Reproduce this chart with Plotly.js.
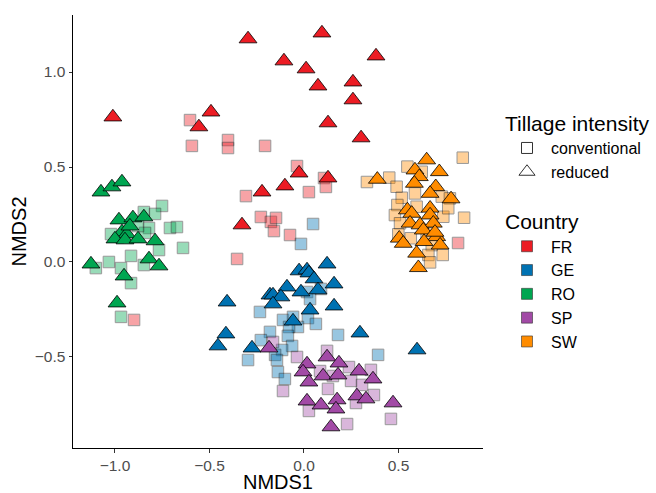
<!DOCTYPE html>
<html>
<head>
<meta charset="utf-8">
<script src="https://cdn.plot.ly/plotly-3.0.1.min.js"></script>
<style>html,body{margin:0;padding:0;background:#fff;}#chart{width:656px;height:493px;}</style>
</head>
<body>
<div id="chart"></div>
<script>
// ---- Data (NMDS scores) ----
const countries = ["FR", "GE", "RO", "SP", "SW"];
const countryColors = ["#EC1C24", "#0072B2", "#00A651", "#A24AA6", "#FF8C00"];
const tillageLevels = ["conventional", "reduced"];

const FR_conv_x = [-0.603,-0.593,-0.402,-0.402,-0.206,-0.037,0.106,0.116,0.026,-0.307,-0.228,-0.175,-0.148,-0.159,-0.074,-0.354,-0.899,0.815];
const FR_conv_y = [0.747,0.611,0.642,0.600,0.611,0.505,0.442,0.395,0.368,0.347,0.237,0.211,0.232,0.163,0.142,0.016,-0.305,0.100];
const FR_red_x = [-0.296,0.095,-0.106,0.011,0.381,0.074,0.259,0.259,0.127,0.302,-0.492,-0.556,-1.011,-0.026,-0.101,-0.222,0.127,-0.328];
const FR_red_y = [1.174,1.205,1.058,1.016,1.084,0.926,0.947,0.853,0.732,0.653,0.789,0.711,0.763,0.468,0.400,0.368,0.442,0.195];

const GE_conv_x = [0.048,-0.016,-0.233,-0.180,-0.111,-0.058,0.021,0.063,-0.032,-0.079,-0.085,0.180,-0.228,-0.063,-0.116,-0.153,0.016,0.032,0.090,0.392,-0.296,-0.143,-0.138,-0.101];
const GE_conv_y = [0.200,0.095,-0.263,-0.368,-0.305,-0.289,-0.295,-0.326,-0.342,-0.342,-0.389,-0.384,-0.411,-0.442,-0.463,-0.489,-0.158,-0.195,-0.142,-0.489,-0.516,-0.516,-0.579,-0.616];
const GE_red_x = [-0.026,0.016,0.026,0.122,0.053,-0.090,0.159,-0.016,0.074,-0.180,-0.164,-0.122,-0.164,0.032,0.159,-0.058,0.296,-0.275,-0.407,-0.413,-0.455,0.598];
const GE_red_y = [-0.047,-0.042,-0.058,-0.011,-0.089,-0.132,-0.116,-0.158,-0.147,-0.174,-0.174,-0.184,-0.221,-0.253,-0.232,-0.311,-0.374,-0.453,-0.211,-0.379,-0.442,-0.463];

const RO_conv_x = [-0.751,-0.788,-0.847,-0.820,-0.841,-1.021,-0.709,-0.672,-0.640,-0.767,-0.915,-1.032,-0.968,-0.847,-1.101,-0.915,-0.968,-0.878];
const RO_conv_y = [0.295,0.253,0.263,0.179,0.153,0.147,0.179,0.184,0.074,0.063,0.032,0.000,-0.032,-0.016,-0.032,-0.111,-0.289,0.189];
const RO_red_x = [-1.074,-1.016,-0.963,-0.979,-0.905,-0.847,-0.963,-0.937,-1.000,-0.947,-0.878,-0.788,-0.820,-0.767,-1.127,-0.952,-0.989,-0.921];
const RO_red_y = [0.368,0.395,0.421,0.221,0.232,0.237,0.158,0.147,0.121,0.116,0.121,0.111,0.016,-0.021,-0.011,-0.074,-0.216,0.189];

const SP_conv_x = [-0.164,-0.037,0.122,0.238,0.354,0.085,0.153,0.249,0.307,0.127,-0.111,0.370,0.275,0.026,0.228,0.460];
const SP_conv_y = [-0.421,-0.500,-0.468,-0.553,-0.568,-0.574,-0.600,-0.626,-0.647,-0.668,-0.679,-0.700,-0.742,-0.784,-0.853,-0.826];
const SP_red_x = [-0.185,0.016,0.122,0.185,-0.005,0.101,0.180,0.291,0.026,0.365,0.016,0.090,0.175,0.169,0.280,0.328,0.471,0.143];
const SP_red_y = [-0.453,-0.537,-0.500,-0.532,-0.579,-0.600,-0.595,-0.574,-0.632,-0.616,-0.732,-0.753,-0.726,-0.774,-0.705,-0.721,-0.742,-0.868];

const SW_conv_x = [0.840,0.547,0.451,0.623,0.490,0.587,0.517,0.729,0.772,0.494,0.481,0.596,0.737,0.847,0.508,0.763,0.499,0.565,0.649,0.676,0.734,0.658,0.667,0.333];
const SW_conv_y = [0.549,0.502,0.444,0.475,0.396,0.361,0.338,0.344,0.335,0.300,0.247,0.291,0.238,0.233,0.204,0.283,0.146,0.125,0.151,0.089,0.037,0.037,-0.002,0.421];
const SW_red_x = [0.649,0.716,0.587,0.610,0.388,0.584,0.697,0.667,0.778,0.547,0.570,0.667,0.667,0.561,0.614,0.684,0.631,0.504,0.525,0.702,0.720,0.635,0.596,0.605,0.693];
const SW_red_y = [0.537,0.475,0.484,0.449,0.435,0.414,0.396,0.361,0.332,0.274,0.256,0.283,0.247,0.204,0.195,0.204,0.168,0.125,0.098,0.133,0.089,0.107,0.046,-0.030,0.156];

const convX = [FR_conv_x, GE_conv_x, RO_conv_x, SP_conv_x, SW_conv_x];
const convY = [FR_conv_y, GE_conv_y, RO_conv_y, SP_conv_y, SW_conv_y];
const redX = [FR_red_x, GE_red_x, RO_red_x, SP_red_x, SW_red_x];
const redY = [FR_red_y, GE_red_y, RO_red_y, SP_red_y, SW_red_y];

const xTicks = [-1.0, -0.5, 0.0, 0.5];
const yTicks = [-0.5, 0.0, 0.5, 1.0];

// ---- Traces ----
const FONT = "Liberation Sans, Arial, Helvetica, sans-serif";
const traces = [];
countries.forEach((c, i) => {
  traces.push({
    type: "scatter", mode: "markers", x: convX[i], y: convY[i], name: c + " conventional",
    showlegend: false, hoverinfo: "x+y",
    marker: { symbol: "square", size: 11.5, color: countryColors[i], opacity: 0.4, line: { color: "#000", width: 1 } }
  });
});
countries.forEach((c, i) => {
  traces.push({
    type: "scatter", mode: "markers", x: redX[i], y: redY[i], name: c + " reduced",
    showlegend: false, hoverinfo: "x+y",
    marker: { symbol: "triangle-up", size: 15.5, color: countryColors[i], opacity: 1, line: { color: "#000", width: 0.8 } }
  });
});
// legend entries: tillage intensity
const tillSymbols = ["square-open", "triangle-up-open"];
const tillSizes = [11, 14];
tillageLevels.forEach((t, i) => {
  traces.push({
    type: "scatter", mode: "markers", x: [null], y: [null], name: t, legend: "legend",
    marker: { symbol: tillSymbols[i], size: tillSizes[i], color: "#333", line: { width: 1 } }
  });
});
// legend entries: country
countries.forEach((c, i) => {
  traces.push({
    type: "scatter", mode: "markers", x: [null], y: [null], name: c, legend: "legend2",
    marker: { symbol: "square", size: 11, color: countryColors[i], line: { color: "#333", width: 0.6 } }
  });
});

const axisCommon = {
  showgrid: false, zeroline: false, showline: true, linecolor: "#000", linewidth: 1,
  ticks: "outside", ticklen: 3.5, tickcolor: "#333", tickwidth: 1,
  tickfont: { family: FONT, size: 15.5, color: "#4D4D4D" }, tickformat: ".1f"
};

const layout = {
  width: 656, height: 493,
  margin: { l: 73, r: 173, t: 15, b: 45, autoexpand: false },
  paper_bgcolor: "#fff", plot_bgcolor: "#fff",
  font: { family: FONT },
  xaxis: Object.assign({}, axisCommon, {
    range: [-1.222, 0.947], tickvals: xTicks, automargin: true,
    title: { text: "NMDS1", font: { family: FONT, size: 20, color: "#000" }, standoff: 8 }
  }),
  yaxis: Object.assign({}, axisCommon, {
    range: [-0.979, 1.30], tickvals: yTicks, automargin: false,
    title: { text: "NMDS2", font: { family: FONT, size: 20, color: "#000" }, standoff: 2 }
  }),
  legend: {
    x: 1.0488, xanchor: "left", y: 0.795, yanchor: "top", itemwidth: 38,
    title: { text: "Tillage intensity", font: { family: FONT, size: 21, color: "#000" } },
    font: { family: FONT, size: 16, color: "#000" },
    bgcolor: "rgba(0,0,0,0)", itemclick: false, itemdoubleclick: false
  },
  legend2: {
    x: 1.0488, xanchor: "left", y: 0.568, yanchor: "top", itemwidth: 38,
    title: { text: "Country", font: { family: FONT, size: 21, color: "#000" } },
    font: { family: FONT, size: 16, color: "#000" },
    bgcolor: "rgba(0,0,0,0)", itemclick: false, itemdoubleclick: false
  },
  showlegend: true
};

Plotly.newPlot("chart", traces, layout, { displayModeBar: false, staticPlot: true });
</script>
</body>
</html>
